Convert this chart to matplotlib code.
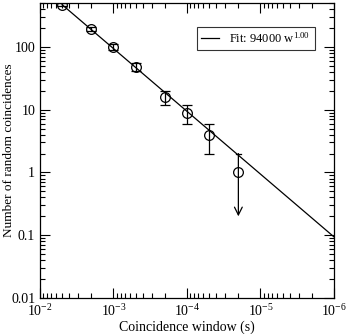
#!/usr/bin/env python3
"""Random coincidences vs coincidence window, log-log with power-law fit."""

import matplotlib
matplotlib.use('Agg')
import matplotlib.pyplot as plt
import matplotlib.ticker as mticker
import numpy as np

plt.rcParams['font.family'] = ['Liberation Serif', 'DejaVu Serif']
plt.rcParams['mathtext.fontset'] = 'custom'
plt.rcParams['mathtext.rm'] = 'Liberation Serif'
plt.rcParams['mathtext.it'] = 'Liberation Serif:italic'

# data
window = [5e-3, 2e-3, 1e-3, 5e-4, 2e-4, 1e-4, 5e-5]
counts = [470, 190, 100, 48, 16, 9, 4]
errors = [22, 14, 10, 7, 4, 3, 2]

# upper limit point
limit_window = 2e-5
limit_value = 1
limit_upper = 2
limit_arrow_to = 0.2

# fit: N = A * w^p
fit_amp = 94000
fit_pow = 1.00
fit_range = [5e-3, 1e-6]

y_ticks = [0.01, 0.1, 1, 10, 100]
y_labels = ['0.01', '0.1', '1', '10', '100']
x_ticks = [1e-2, 1e-3, 1e-4, 1e-5, 1e-6]
x_labels = [r'$10^{-2}$', r'$10^{-3}$', r'$10^{-4}$', r'$10^{-5}$', r'$10^{-6}$']

fig = plt.figure(figsize=(3.46, 3.34), dpi=100)
ax = fig.add_axes([0.1156, 0.1078, 0.8497, 0.8832])

# fit line
wf = np.geomspace(fit_range[0], fit_range[1], 50)
ax.plot(wf, fit_amp * wf ** fit_pow, color='black', lw=0.9,
        label=r'Fit: 94000 w$^{1.00}$')

# data points with error bars
ax.errorbar(window, counts, yerr=errors, fmt='o', mfc='none', mec='black',
            ms=7, mew=0.9, ecolor='black', elinewidth=0.9, capsize=3.5,
            capthick=0.9, color='black')

# upper limit point with downward arrow
ax.plot([limit_window], [limit_value], 'o', mfc='none', mec='black',
        ms=7, mew=0.9)
ax.annotate('', xy=(limit_window, limit_arrow_to),
            xytext=(limit_window, limit_upper),
            arrowprops=dict(arrowstyle='->', color='black', lw=0.9,
                            mutation_scale=14, shrinkA=0, shrinkB=0))
ax.plot([limit_window / 1.09, limit_window * 1.09],
        [limit_upper, limit_upper], color='black', lw=0.9)

ax.set_xscale('log')
ax.set_yscale('log')
ax.set_xlim(1e-2, 1e-6)
ax.set_ylim(0.01, 500)

ax.xaxis.set_major_locator(mticker.FixedLocator(x_ticks))
ax.xaxis.set_major_formatter(mticker.FixedFormatter(x_labels))
ax.yaxis.set_major_locator(mticker.FixedLocator(y_ticks))
ax.yaxis.set_major_formatter(mticker.FixedFormatter(y_labels))
ax.xaxis.set_minor_locator(mticker.LogLocator(base=10, subs=np.arange(2, 10), numticks=20))
ax.yaxis.set_minor_locator(mticker.LogLocator(base=10, subs=np.arange(2, 10), numticks=20))
ax.xaxis.set_minor_formatter(mticker.NullFormatter())
ax.yaxis.set_minor_formatter(mticker.NullFormatter())

ax.tick_params(which='both', direction='in', top=True, right=True,
               labelsize=10, width=0.8)
ax.tick_params(which='major', length=7)
ax.tick_params(which='minor', length=3.5)
for s in ax.spines.values():
    s.set_linewidth(0.9)

ax.set_xlabel('Coincidence window (s)', fontsize=10, labelpad=1)
ax.set_ylabel('Number of random coincidences', fontsize=9.5)
ax.yaxis.set_label_coords(-0.085, 0.5)

leg = ax.legend(loc='upper right', bbox_to_anchor=(0.935, 0.92), fontsize=9,
                frameon=True, fancybox=False, edgecolor='black',
                handlelength=1.45, handletextpad=0.8, borderpad=0.35,
                borderaxespad=0)
leg.get_frame().set_linewidth(0.8)

fig.savefig('out.png', dpi=100, facecolor='white')
